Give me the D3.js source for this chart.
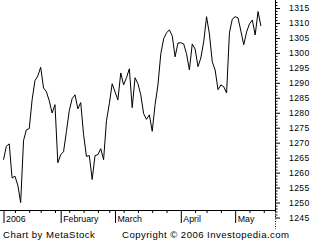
<!DOCTYPE html>
<html>
<head>
<meta charset="utf-8">
<script src="https://cdn.jsdelivr.net/npm/d3@7"></script>
<style>
  body { margin: 0; background: #fff; }
  svg { display: block; font-family: "Liberation Sans", Arial, sans-serif; }
</style>
</head>
<body>
<svg id="chart"></svg>
<script>
// Daily closes, Jan 3 - May 12 2006
var closes = [
  1264.3, 1268.8, 1269.6, 1258.2, 1258.8, 1255.8, 1250.0, 1270.7, 1274.3, 1274.7,
  1284.3, 1290.7, 1292.3, 1295.2, 1288.3, 1287.0, 1284.0, 1279.9, 1282.7, 1263.3,
  1266.0, 1267.0, 1273.7, 1280.7, 1284.7, 1286.0, 1281.3, 1283.4, 1272.7, 1265.4,
  1265.7, 1257.7, 1265.7, 1266.0, 1268.0, 1264.3, 1277.3, 1283.0, 1289.7, 1287.0,
  1284.3, 1293.3, 1289.3, 1291.7, 1294.7, 1281.7, 1291.7, 1289.7, 1286.0, 1279.7,
  1277.8, 1279.3, 1273.8, 1282.7, 1289.3, 1299.7, 1304.7, 1306.7, 1307.7, 1305.7,
  1298.7, 1303.3, 1303.4, 1303.0, 1299.7, 1294.3, 1303.0, 1301.3, 1295.4, 1298.3,
  1303.7, 1312.1, 1306.3, 1297.0, 1294.3, 1287.7, 1289.3, 1288.7, 1286.6, 1306.7,
  1311.3, 1312.1, 1311.7, 1307.3, 1302.7, 1307.0, 1309.7, 1311.0, 1306.0, 1313.8,
  1309.0
];

// trading-day index of each month start, and its label
var monthIdx = [0, 20, 39, 62, 81];
var monthLabels = ["2006", "February", "March", "April", "May"];
// first trading day of each week
var weekIdx = [4, 9, 13, 18, 23, 28, 33, 37, 42, 47, 52, 57, 67, 71, 76, 86, 91];

var priceTicks = d3.range(1245, 1316, 5);
var minorTicks = d3.range(1246, 1318, 1).filter(function (d) { return d % 5 !== 0; });

var width = 312, height = 240;
var axisX = 275;   // right axis position
var baseY = 210;   // bottom axis position

var svg = d3.select("#chart").attr("width", width).attr("height", height);

var x = d3.scaleLinear().domain([0, 90]).range([3.5, 260.9]);
var y = d3.scaleLinear().domain([1245, 1315]).range([217.5, 8]);

// price line
var line = d3.line()
    .x(function (d, i) { return x(i); })
    .y(function (d) { return y(d); });

svg.append("path")
    .datum(closes)
    .attr("d", line)
    .attr("fill", "none")
    .attr("stroke", "#000")
    .attr("stroke-width", 1);

// bottom axis: weekly minor ticks
var weekAxis = d3.axisBottom(x).tickValues(weekIdx).tickSize(3).tickFormat("");
svg.append("g")
    .attr("transform", "translate(0," + baseY + ")")
    .call(weekAxis)
    .call(function (g) { g.select(".domain").remove(); });

// bottom axis: month ticks with labels to the right of the tick
var monthAxis = d3.axisBottom(x).tickValues(monthIdx).tickSize(13)
    .tickFormat(function (d, i) { return monthLabels[i]; });
var mg = svg.append("g")
    .attr("transform", "translate(0," + baseY + ")")
    .call(monthAxis);
mg.select(".domain").remove();
mg.selectAll("text")
    .attr("x", 2)
    .attr("y", 11.5)
    .attr("dy", 0)
    .attr("text-anchor", "start")
    .attr("font-size", 8.8)
    .attr("fill", "#000");

svg.append("line")
    .attr("x1", 0).attr("x2", axisX)
    .attr("y1", baseY + 0.5).attr("y2", baseY + 0.5)
    .attr("stroke", "#000");

// right axis
var minorAxis = d3.axisRight(y).tickValues(minorTicks).tickSize(2.5).tickFormat("");
svg.append("g")
    .attr("transform", "translate(" + axisX + ",0)")
    .call(minorAxis)
    .call(function (g) { g.select(".domain").remove(); });

var priceAxis = d3.axisRight(y).tickValues(priceTicks).tickSize(5).tickPadding(9)
    .tickFormat(d3.format("d"));
var pg = svg.append("g")
    .attr("transform", "translate(" + axisX + ",0)")
    .call(priceAxis);
pg.select(".domain").remove();
pg.selectAll("text")
    .attr("font-size", 8.6)
    .attr("letter-spacing", 0.4)
    .attr("fill", "#000");

svg.append("line")
    .attr("x1", axisX + 0.5).attr("x2", axisX + 0.5)
    .attr("y1", 0).attr("y2", baseY + 1)
    .attr("stroke", "#000");
svg.append("line")
    .attr("x1", axisX + 0.5).attr("x2", axisX + 0.5)
    .attr("y1", baseY + 1).attr("y2", 229)
    .attr("stroke", "#000")
    .attr("stroke-dasharray", "1,1.5");

// credits
svg.append("text")
    .attr("x", 3).attr("y", 237.5)
    .attr("font-size", 9.6)
    .attr("letter-spacing", 0.45)
    .text("Chart by MetaStock");
svg.append("text")
    .attr("x", 122).attr("y", 237.5)
    .attr("font-size", 9.6)
    .attr("letter-spacing", 0.45)
    .text("Copyright © 2006 Investopedia.com");
</script>
</body>
</html>
